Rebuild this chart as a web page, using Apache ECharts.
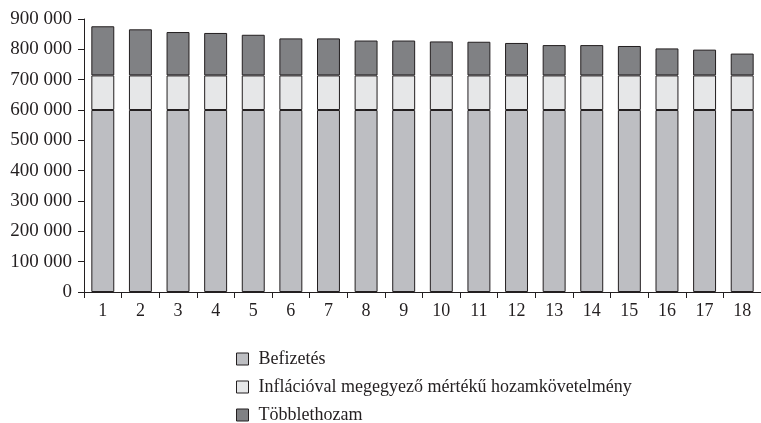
<!DOCTYPE html>
<html><head><meta charset="utf-8">
<script src="https://cdn.jsdelivr.net/npm/echarts@6/dist/echarts.min.js"></script>
<style>html,body{margin:0;padding:0;background:#fff}#c{width:761px;height:423px}</style>
</head><body><div id="c"></div>
<script>
const categories = ['1','2','3','4','5','6','7','8','9','10','11','12','13','14','15','16','17','18'];
const befizetes = [600000,600000,600000,600000,600000,600000,600000,600000,600000,600000,600000,600000,600000,600000,600000,600000,600000,600000];
const inflacio = [114000,114000,114000,114000,114000,114000,114000,114000,114000,114000,114000,114000,114000,114000,114000,114000,114000,114000];
const totals = [876000,866000,857000,854000,848000,836000,836000,829000,829000,826000,825000,821000,814000,814000,811000,803000,799000,786000];
const tobblet = totals.map((t,i)=>t - befizetes[i] - inflacio[i]);
const seriesNames = ['Befizetés','Inflációval megegyező mértékű hozamkövetelmény','Többlethozam'];
const yTicks = [0,100000,200000,300000,400000,500000,600000,700000,800000,900000];

const font = 'Liberation Serif';
const border = {borderColor:'#231f20', borderWidth:1};
const chart = echarts.init(document.getElementById('c'));
chart.setOption({
  animation:false,
  textStyle:{fontFamily:font},
  grid:{left:84, top:19, height:273, width:680, containLabel:false},
  legend:{
    orient:'vertical', left:236, top:350, height:120, padding:0, itemGap:10, itemWidth:12, itemHeight:12,
    icon:'rect',
    itemStyle:{borderColor:'#231f20', borderWidth:1},
    textStyle:{fontFamily:font, fontSize:18, lineHeight:18, color:'#231f20', padding:[0,0,0,5]},
    data:seriesNames
  },
  xAxis:{
    type:'category', data:categories,
    axisLine:{lineStyle:{color:'#231f20', width:1}},
    axisTick:{show:true, length:6, alignWithLabel:false, lineStyle:{color:'#231f20'}},
    axisLabel:{fontFamily:font, fontSize:18, color:'#231f20', margin:10}
  },
  yAxis:{
    type:'value', min:yTicks[0], max:yTicks[yTicks.length-1], interval:100000,
    splitLine:{show:false},
    axisLine:{show:true, lineStyle:{color:'#231f20', width:1}},
    axisTick:{show:true, length:6, lineStyle:{color:'#231f20'}},
    axisLabel:{fontFamily:font, fontSize:19, color:'#231f20', margin:12,
      formatter:v=>String(v).replace(/\B(?=(\d{3})+(?!\d))/g,' ')}
  },
  series:[
    {name:seriesNames[0], type:'bar', stack:'s', data:befizetes, barWidth:'61%', itemStyle:Object.assign({color:'#bdbec2'},border)},
    {name:seriesNames[1], type:'bar', stack:'s', data:inflacio, itemStyle:Object.assign({color:'#e6e7e8'},border)},
    {name:seriesNames[2], type:'bar', stack:'s', data:tobblet, itemStyle:Object.assign({color:'#808184'},border)}
  ]
});
</script></body></html>
